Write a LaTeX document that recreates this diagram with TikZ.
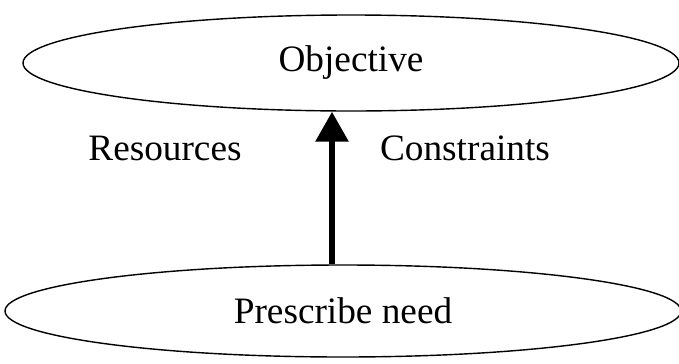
\documentclass[tikz,border=0pt]{standalone}
\usepackage{fontspec}
\setmainfont{Liberation Serif}
\usetikzlibrary{positioning, arrows.meta, shapes.geometric}

\begin{document}
\begin{tikzpicture}[
    x=0.025cm, y=-0.025cm,
    goal/.style={draw, ellipse, line width=1pt, inner sep=0pt, font=\fontsize{26.5}{30}\selectfont},
    label/.style={font=\fontsize{26.5}{30}\selectfont},
    arrow/.style={-{Triangle[length=0.75cm, width=0.8cm]}, line width=4.3pt}
]
\useasboundingbox (0,0) rectangle (679,363);

% Ellipses
\node[goal, minimum width=656*0.025cm, minimum height=96*0.025cm] (obj) at (351,63) {Objective};
\node[goal, minimum width=676*0.025cm, minimum height=92*0.025cm] (need) at (343,311) {Prescribe need};

% Side labels
\node[label] (res) at (165,148) {Resources};
\node[label] (con) at (465,148) {Constraints};

% Arrow
\coordinate (ax) at (332,0);
\draw[arrow] (need.north -| ax) -- (obj.south -| ax);
\end{tikzpicture}
\end{document}
